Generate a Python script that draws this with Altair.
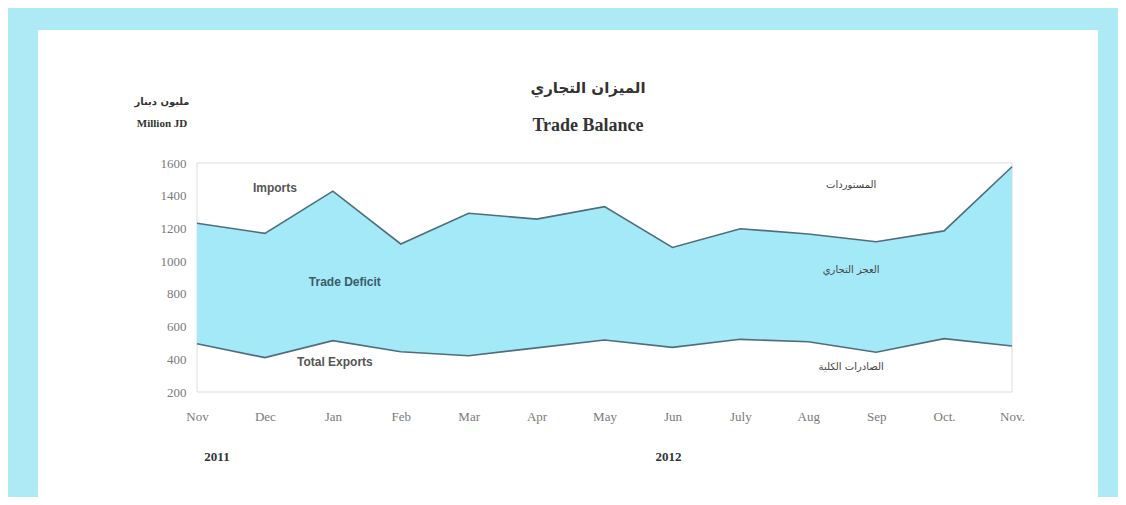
import altair as alt
import pandas as pd

months = ["Nov", "Dec", "Jan", "Feb", "Mar", "Apr", "May", "Jun", "July", "Aug", "Sep", "Oct.", "Nov."]
imports = [1232, 1170, 1428, 1105, 1293, 1257, 1333, 1084, 1198, 1166, 1119, 1185, 1577]
exports = [495, 410, 514, 446, 422, 470, 518, 473, 522, 507, 443, 526, 481]

label_text = ["Imports", "Trade Deficit", "Total Exports"]
label_month = ["Dec", "Jan", "Jan"]
label_value = [1447, 872, 383]
label_dx = [10, 12, 2]
label_color = ["#555555", "#3d5a6a", "#555555"]

ar_text = ["المستوردات", "العجز التجاري", "الصادرات الكلية"]
ar_month = ["Sep", "Sep", "Sep"]
ar_value = [1465, 946, 353]

year_text = ["2011", "2012"]
year_month = ["Nov", "Jun"]
year_dx = [20, -4]

df = pd.DataFrame({"month": months, "Imports": imports, "Exports": exports})
lab = pd.DataFrame({"t": label_text, "month": label_month, "v": label_value})
ar = pd.DataFrame({"t": ar_text, "month": ar_month, "v": ar_value})
yr = pd.DataFrame({"t": year_text, "month": year_month})
one = pd.DataFrame({"k": [0]})

x_axis = alt.Axis(title=None, labelAngle=0, ticks=False, domain=False, labelPadding=18,
                  labelFont="Liberation Serif", labelFontSize=13, labelColor="#7a7a7a",
                  labelOverlap=False, zindex=3)
y_axis = alt.Axis(title=None, values=list(range(200, 1601, 200)), format="d", ticks=False,
                  domain=False, grid=False, labelPadding=11, labelFont="Liberation Serif",
                  labelFontSize=13, labelColor="#7a7a7a", labelOverlap=False,
                  labelFlush=False, zindex=3)
x_scale = alt.Scale(type="point", padding=0)
y_scale = alt.Scale(domain=[200, 1600], nice=False, zero=False)


def X():
    return alt.X("month:O", sort=months, scale=x_scale, axis=x_axis)


def Y(field):
    return alt.Y(field, scale=y_scale, axis=y_axis)


panel = alt.Chart(one).mark_rect(color="white").encode(
    x=alt.value(-159), x2=alt.value(901), y=alt.value(-133), y2=alt.value(345))

frame = alt.Chart(one).mark_rect(fill=None, fillOpacity=0, stroke="#dcdcdc", strokeWidth=1).encode(
    x=alt.value(0), x2=alt.value(815), y=alt.value(0), y2=alt.value(229))

area = alt.Chart(df).mark_area(color="#a3e9f7", opacity=1).encode(
    x=X(), y=Y("Imports:Q"), y2=alt.Y2("Exports:Q"))

line_imp = alt.Chart(df).mark_line(color="#4f6d7b", strokeWidth=1.6).encode(
    x=X(), y=Y("Imports:Q"))
line_exp = alt.Chart(df).mark_line(color="#4f6d7b", strokeWidth=1.6).encode(
    x=X(), y=Y("Exports:Q"))

labels = alt.layer(*[
    alt.Chart(lab.iloc[[i]]).mark_text(font="Liberation Sans", fontWeight="bold", fontSize=12,
                                       dx=int(label_dx[i]), color=label_color[i]).encode(
        x=X(), y=Y("v:Q"), text="t:N")
    for i in range(len(label_text))
])

ar_labels = alt.Chart(ar).mark_text(font="DejaVu Sans", fontSize=10, color="#444444", dx=-25).encode(
    x=X(), y=Y("v:Q"), text="t:N")

years = alt.layer(*[
    alt.Chart(yr.iloc[[i]]).mark_text(font="Liberation Serif", fontWeight="bold", fontSize=13,
                                      color="#333333", dx=int(year_dx[i])).encode(
        x=X(), y=alt.value(294), text="t:N")
    for i in range(len(year_text))
])

unit_ar = alt.Chart(one).mark_text(font="DejaVu Sans", fontSize=10, fontWeight="bold",
                                   color="#333333").encode(
    x=alt.value(-35), y=alt.value(-61), text=alt.value("مليون دينار"))
unit_en = alt.Chart(one).mark_text(font="Liberation Serif", fontWeight="bold", fontSize=11,
                                   color="#333333").encode(
    x=alt.value(-35), y=alt.value(-39), text=alt.value("Million JD"))

title_ar = alt.Chart(one).mark_text(font="DejaVu Sans", fontSize=15, fontWeight="bold",
                                    color="#333333").encode(
    x=alt.value(391), y=alt.value(-75), text=alt.value("الميزان التجاري"))
title_en = alt.Chart(one).mark_text(font="Liberation Serif", fontWeight="bold", fontSize=18,
                                    color="#333333").encode(
    x=alt.value(391), y=alt.value(-37), text=alt.value("Trade Balance"))

chart = alt.layer(panel, frame, area, line_imp, line_exp, labels, ar_labels, years,
                  unit_ar, unit_en, title_ar, title_en).properties(
    width=815, height=229,
    autosize=alt.AutoSizeParams(type="none"),
    padding={"left": 189, "top": 155, "right": 106, "bottom": 105},
    background="#aeeaf5",
).configure_view(stroke=None).configure_axis(labelOverlap=False)

chart.save("out.html", embed_options={"renderer": "svg", "actions": False})
